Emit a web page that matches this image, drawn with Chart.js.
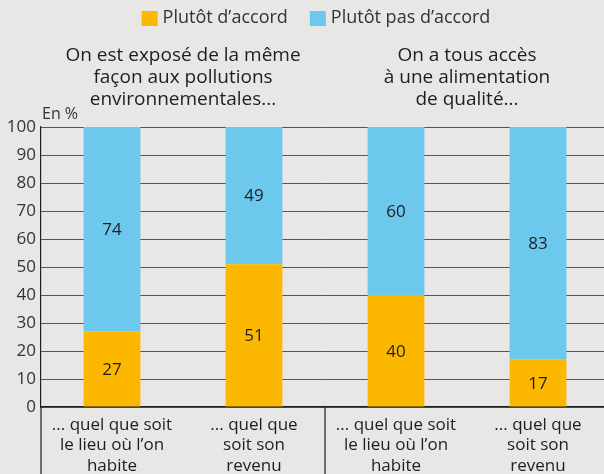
<!DOCTYPE html>
<html>
<head>
<meta charset="utf-8">
<script src="https://cdn.jsdelivr.net/npm/chart.js@4.4.1/dist/chart.umd.min.js"></script>
<style>
  html, body { margin: 0; padding: 0; overflow: hidden; background: #e8e7e5; }
  #wrap { width: 609px; height: 474px; }
</style>
</head>
<body>
<div id="wrap"><canvas id="chart"></canvas></div>
<script>
// Données du graphique
const categories = [
    ['... quel que soit', 'le lieu où l’on', 'habite'],
    ['... quel que', 'soit son', 'revenu'],
    ['... quel que soit', 'le lieu où l’on', 'habite'],
    ['... quel que', 'soit son', 'revenu']
];
const accord = [27, 51, 40, 17];
const pasAccord = [74, 49, 60, 83];
const groupTitles = [
    ['On est exposé de la même', 'façon aux pollutions', 'environnementales...'],
    ['On a tous accès', 'à une alimentation', 'de qualité...']
];
const seriesNames = ['Plutôt d’accord', 'Plutôt pas d’accord'];
const yTicks = [0, 10, 20, 30, 40, 50, 60, 70, 80, 90, 100];

const FONT = "'Open Sans', sans-serif";
const YELLOW = '#fcb800';
const BLUE = '#6dc8ee';
const TEXT = '#1e1e1e';

// Plugin pour les décorations (légende, titres, valeurs, séparateurs)
const decor = {
    id: 'decor',
    afterDatasetsDraw(chart) {
        const ctx = chart.ctx;
        const area = chart.chartArea;
        // valeurs au centre des segments
        ctx.save();
        ctx.font = '17px ' + FONT;
        ctx.fillStyle = TEXT;
        ctx.textAlign = 'center';
        ctx.textBaseline = 'middle';
        chart.data.datasets.forEach((ds, i) => {
            chart.getDatasetMeta(i).data.forEach((bar, j) => {
                const top = Math.max(bar.y, area.top);
                const bottom = Math.min(bar.base, area.bottom);
                ctx.fillText(String(ds.data[j]), bar.x, (top + bottom) / 2 + 1);
            });
        });
        ctx.restore();
    },
    afterDraw(chart) {
        const ctx = chart.ctx;
        const area = chart.chartArea;
        const x = chart.scales.x;
        ctx.save();

        // légende
        ctx.font = '18px ' + FONT;
        ctx.textBaseline = 'middle';
        const colors = [YELLOW, BLUE];
        const widths = seriesNames.map(n => ctx.measureText(n).width);
        const total = widths[0] + widths[1] + 2 * 21 + 22;
        let lx = 316 - total / 2;
        seriesNames.forEach((name, i) => {
            ctx.fillStyle = colors[i];
            ctx.fillRect(lx, 11, 16, 15);
            ctx.fillStyle = '#333';
            ctx.textAlign = 'left';
            ctx.fillText(name, lx + 21, 18);
            lx += 21 + widths[i] + 22;
        });

        // titres des groupes
        ctx.font = '19px ' + FONT;
        ctx.fillStyle = TEXT;
        ctx.textAlign = 'center';
        groupTitles.forEach((lines, g) => {
            const cx = (x.getPixelForValue(g * 2) + x.getPixelForValue(g * 2 + 1)) / 2;
            lines.forEach((line, k) => ctx.fillText(line, cx, 56 + k * 22));
        });

        // "En %"
        ctx.font = '16px ' + FONT;
        ctx.textAlign = 'left';
        ctx.fillStyle = '#333';
        ctx.fillText('En %', area.left + 1, area.top - 13);

        // séparateurs sous l'axe
        ctx.strokeStyle = '#1e1e1e';
        ctx.lineWidth = 1.2;
        const sep = (x.getPixelForValue(1) + x.getPixelForValue(2)) / 2;
        ctx.beginPath();
        ctx.moveTo(sep, area.bottom);
        ctx.lineTo(sep, chart.height);
        ctx.moveTo(area.left, area.bottom);
        ctx.lineTo(area.left, chart.height);
        ctx.stroke();
        ctx.restore();
    }
};

new Chart(document.getElementById('chart'), {
    type: 'bar',
    data: {
        labels: categories,
        datasets: [
            { label: seriesNames[0], data: accord, backgroundColor: YELLOW },
            { label: seriesNames[1], data: pasAccord, backgroundColor: BLUE }
        ]
    },
    options: {
        responsive: true,
        maintainAspectRatio: false,
        animation: false,
        layout: { padding: { top: 127, right: 0, left: 0, bottom: 0 } },
        datasets: { bar: { barPercentage: 0.4, categoryPercentage: 1 } },
        plugins: {
            legend: { display: false },
            tooltip: { enabled: false }
        },
        scales: {
            x: {
                stacked: true,
                afterFit: s => { s.height = 67; },
                grid: { display: false },
                border: { color: '#1e1e1e', width: 1.2 },
                ticks: {
                    color: TEXT,
                    font: { family: FONT, size: 17, lineHeight: 1.2 },
                    padding: 0,
                    maxRotation: 0,
                    autoSkip: false
                }
            },
            y: {
                stacked: true,
                min: 0,
                max: 100,
                afterFit: s => { s.width = 41; },
                afterBuildTicks: s => { s.ticks = yTicks.map(v => ({ value: v })); },
                grid: { color: '#555', lineWidth: 1, drawTicks: false },
                border: { color: '#1e1e1e', width: 1.2 },
                ticks: {
                    color: '#333',
                    font: { family: FONT, size: 17 },
                    padding: 5
                }
            }
        }
    },
    plugins: [decor]
});
</script>
</body>
</html>
